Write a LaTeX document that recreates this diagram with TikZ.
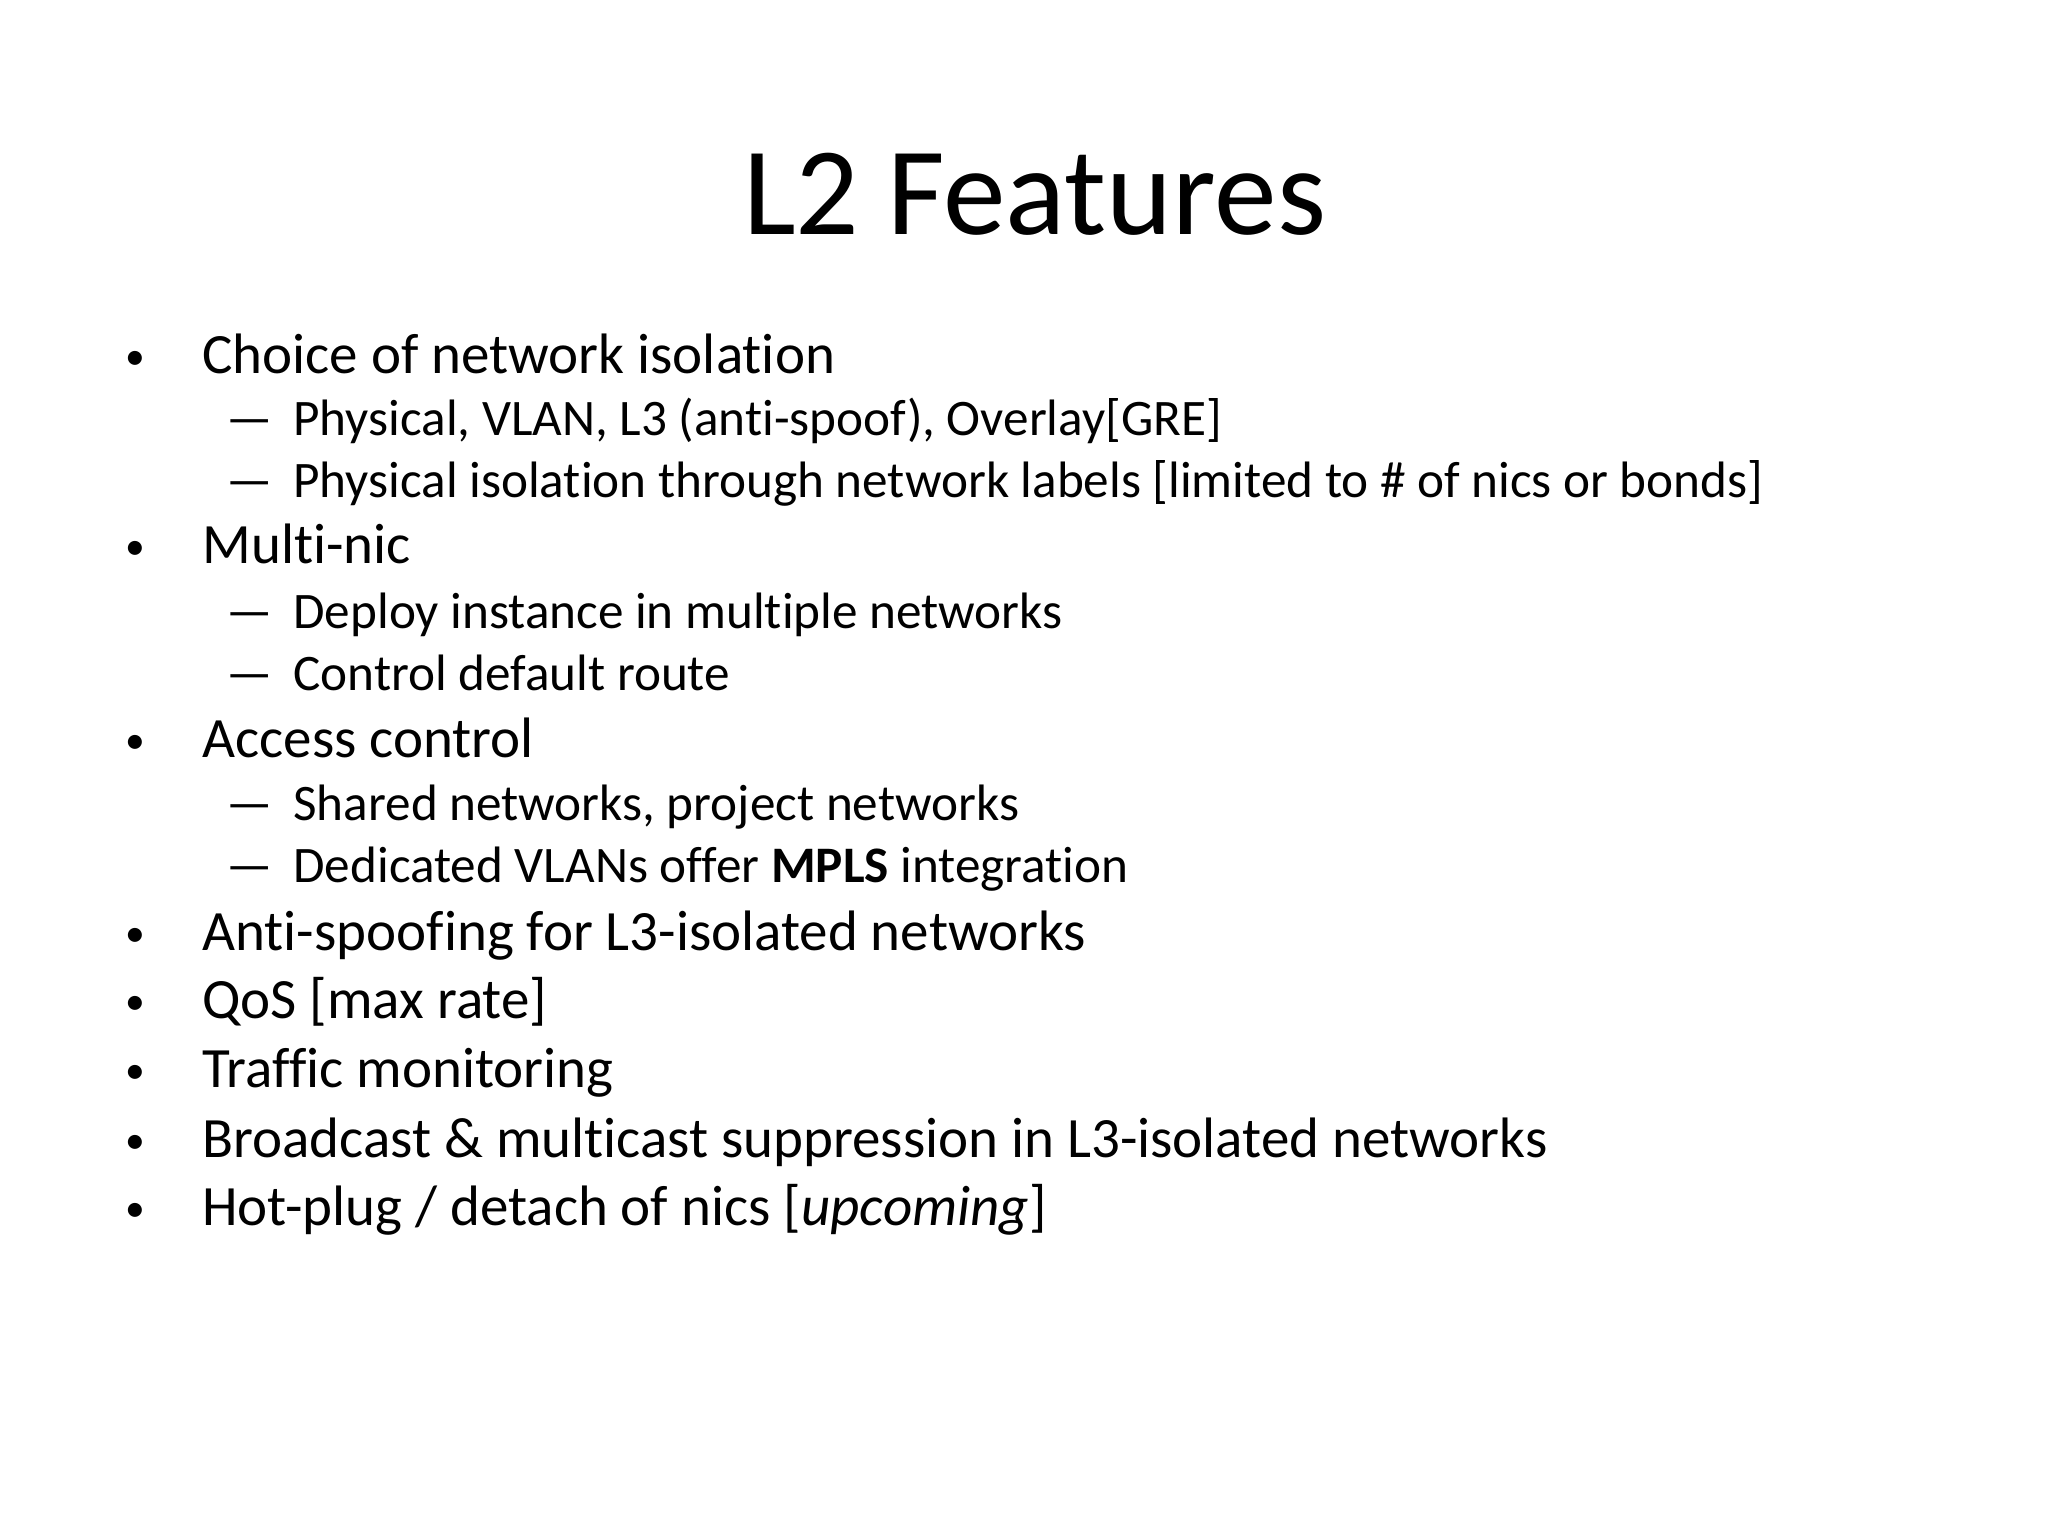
\documentclass[tikz,border=0pt]{standalone}
\usepackage{fontspec}
\setmainfont{Carlito}[RawFeature=-liga]
\tikzset{
  itemone/.style={anchor=base west,inner sep=0pt,font=\fontsize{21.6}{26}\selectfont},
  itemtwo/.style={anchor=base west,inner sep=0pt,font=\fontsize{19.4}{23}\selectfont},
}
\begin{document}
\begin{tikzpicture}[x=0.5pt,y=0.5pt,yscale=-1,xscale=1]
\useasboundingbox (0,0) rectangle (1552,1164);
%Title
\node [anchor=base,inner sep=0pt,font=\fontsize{47.5}{54}\selectfont] (title) at (784,178) {L2 Features};
%Bullets
\foreach \y/\txt [count=\i] in {283/Choice of network isolation,427/Multi-nic,574/Access control,
  720/Anti-spoofing for L3-isolated networks,772/QoS [max rate],824/Traffic monitoring,
  877/Broadcast \& multicast suppression in L3-isolated networks,929/{Hot-plug / detach of nics [\textit{upcoming}]}}{
  \node [itemone,font=\fontsize{15}{18}\selectfont] (b\i) at (95,\y-3) {\textbullet};
  \node [itemone] (t\i) at (153,\y) {\txt};
}
%Sub items
\foreach \y/\txt [count=\i] in {330/{Physical, VLAN, L3 (anti-spoof), Overlay[GRE]},
  377/Physical isolation through network labels [limited to \# of nics or bonds],
  476/Deploy instance in multiple networks,523/Control default route,
  622/{Shared networks, project networks},669/Dedicated VLANs offer \textbf{MPLS} integration}{
  \node [itemtwo] (d\i) at (171,\y) {\textemdash};
  \node [itemtwo] (s\i) at (222,\y) {\txt};
}
\end{tikzpicture}
\end{document}
